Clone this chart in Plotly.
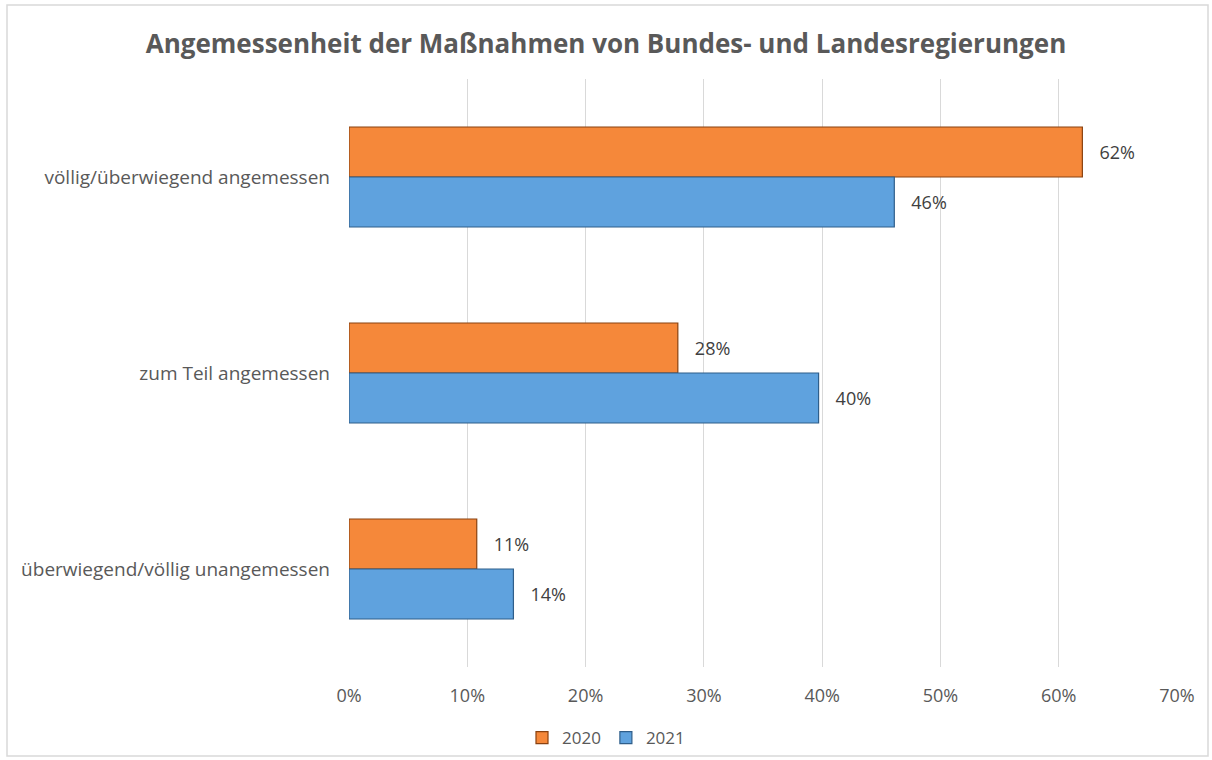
import plotly.graph_objects as go

# Daten (Balkenlängen, Beschriftung gerundet)
categories = ["völlig/überwiegend angemessen", "zum Teil angemessen", "überwiegend/völlig unangemessen"]
values_2020 = [62.0, 27.8, 10.8]
values_2021 = [46.1, 39.7, 13.9]
series_names = ["2020", "2021"]

tick_vals = [0, 10, 20, 30, 40, 50, 60, 70]
tick_text = ["0%", "10%", "20%", "30%", "40%", "50%", "60%", "70%"]

font_name = "Open Sans"
grey = "#595959"

fig = go.Figure()

fig.add_trace(go.Bar(
    y=categories,
    x=values_2020,
    name=series_names[0],
    orientation="h",
    marker=dict(color="#F5883A", line=dict(color="#8A4210", width=1.2)),
    texttemplate="   %{x:.0f}%",
    textposition="outside",
    textfont=dict(size=18, color="#404040", family=font_name),
    cliponaxis=False,
))

fig.add_trace(go.Bar(
    y=categories,
    x=values_2021,
    name=series_names[1],
    orientation="h",
    marker=dict(color="#5FA2DE", line=dict(color="#2F5E8A", width=1.2)),
    texttemplate="   %{x:.0f}%",
    textposition="outside",
    textfont=dict(size=18, color="#404040", family=font_name),
    cliponaxis=False,
))

# Rahmen um das ganze Diagramm
fig.add_shape(
    type="rect", xref="paper", yref="paper",
    x0=(7 - 349) / 828, x1=(1208 - 349) / 828,
    y0=(667 - 756) / 588, y1=(667 - 5) / 588,
    line=dict(color="#D9D9D9", width=1.5),
    layer="below",
)

fig.update_layout(
    width=1212,
    height=760,
    margin=dict(l=349, r=35, t=79, b=93),
    paper_bgcolor="white",
    plot_bgcolor="white",
    barmode="group",
    bargap=0.49,
    bargroupgap=0,
    title=dict(
        text="<b>Angemessenheit der Maßnahmen von Bundes- und Landesregierungen</b>",
        x=0.5, xref="container", xanchor="center",
        y=1 - 44 / 760, yref="container", yanchor="middle",
        font=dict(size=26, color=grey, family=font_name),
    ),
    font=dict(family=font_name, color=grey, size=18),
    xaxis=dict(
        range=[0, 70],
        tickvals=tick_vals,
        ticktext=tick_text,
        showgrid=True,
        gridcolor="#D9D9D9",
        gridwidth=1,
        zeroline=False,
        showline=False,
        ticks="",
        ticklabelstandoff=16,
        tickfont=dict(size=18, color=grey),
    ),
    yaxis=dict(
        autorange="reversed",
        showgrid=False,
        showline=False,
        ticks="",
        ticklabelstandoff=18,
        tickfont=dict(size=19, color=grey),
    ),
    legend=dict(
        orientation="h",
        x=0.5, xref="container", xanchor="center",
        y=22 / 760, yref="container", yanchor="middle",
        font=dict(size=17, color=grey),
        bgcolor="rgba(0,0,0,0)",
        itemwidth=30,
    ),
)

# Browser-Rand entfernen, damit die Grafik genau im Fenster sitzt
fig.write_html(
    "out.html",
    config={"displayModeBar": False},
    post_script="document.body.style.margin='0';",
)
